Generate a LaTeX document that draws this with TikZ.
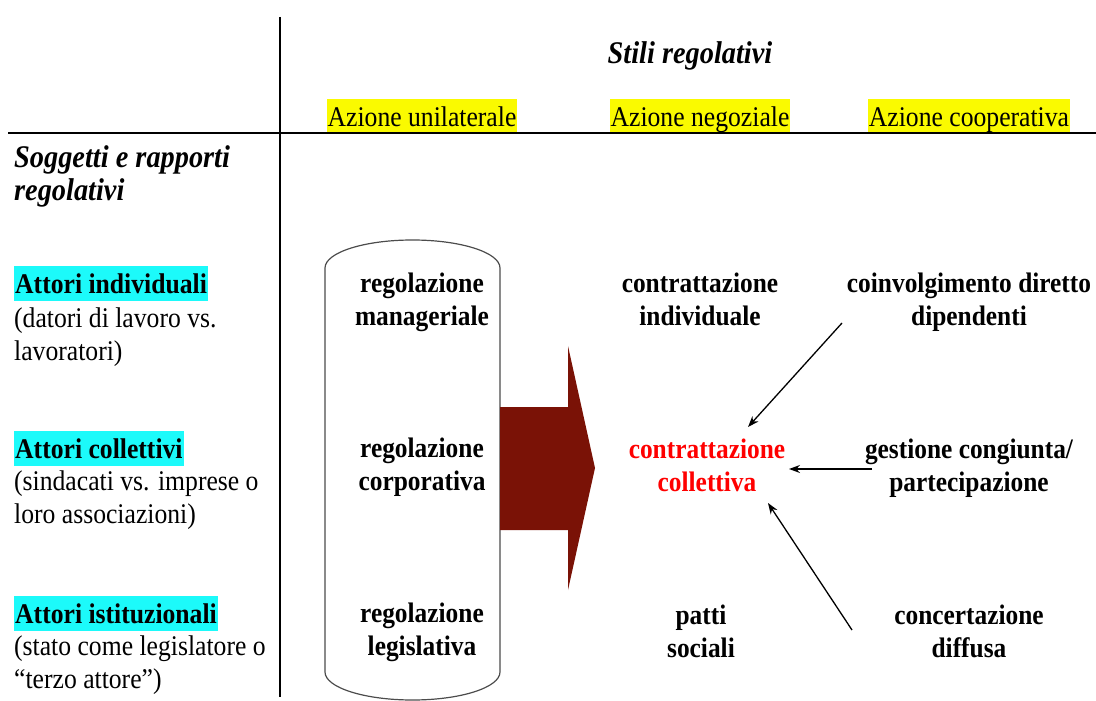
\documentclass[tikz,border=0pt]{standalone}
\usepackage{fontspec}
\setmainfont{Liberation Serif}[FakeStretch=0.9]
\usetikzlibrary{arrows.meta}
\definecolor{arrowred}{HTML}{7A1206}
\definecolor{hlyellow}{HTML}{FAFA00}
\definecolor{hlcyan}{HTML}{1CFAFA}
\begin{document}
\begin{tikzpicture}[x=1pt,y=-1pt,
  rule/.style={line width=2pt,black},
  heading/.style={font=\fontsize{31.5}{33}\selectfont\bfseries\itshape, inner sep=0pt, anchor=base west, align=left},
  colhead/.style={font=\fontsize{28.5}{32}\selectfont, fill=hlyellow, inner xsep=1pt, inner ysep=0pt, text height=28pt, text depth=5pt, anchor=base},
  actor/.style={font=\fontsize{28.5}{32}\selectfont\bfseries, fill=hlcyan, inner xsep=1pt, inner ysep=0pt, text height=27pt, text depth=8pt, anchor=base west},
  desc/.style={font=\fontsize{28.5}{33}\selectfont, inner sep=0pt, anchor=base west, align=left},
  cell/.style={font=\fontsize{28.2}{32.5}\selectfont\bfseries, inner sep=0pt, anchor=base, align=center},
  link/.style={line width=1.3pt, black, -{Stealth[length=11pt,width=8pt]}}
]
\useasboundingbox (0,0) rectangle (1096,701);

% grid lines
\coordinate (vtop) at (280,17);
\coordinate (vbot) at (280,697);
\coordinate (hl) at (8,133);
\coordinate (hr) at (1096,133);
\draw[rule] (vtop) -- (vbot);
\draw[rule] (hl) -- (hr);

% headings (anchor = baseline of last line)
\node[heading, anchor=base] (stili) at (690,64) {Stili regolativi};
\node[heading] (sogg) at (14,200) {Soggetti e rapporti\\regolativi};

% column headers
\node[colhead] (hunil) at (422,127) {Azione unilaterale};
\node[colhead] (hneg) at (700,127) {Azione negoziale};
\node[colhead] (hcoop) at (969,127) {Azione cooperativa};

% row headers
\node[actor] (aind) at (14,293) {Attori individuali};
\node[desc] (dind) at (14,360) {(datori di lavoro vs.\\lavoratori)};
\node[actor] (acol) at (14,458) {Attori collettivi};
\node[desc] (dcol) at (14,523) {(sindacati vs. imprese o\\loro associazioni)};
\node[actor] (aist) at (14,623) {Attori istituzionali};
\node[desc] (dist) at (14,688) {(stato come legislatore o\\``terzo attore'')};

% capsule
\draw[line width=1.2pt, black!70] (325,268) -- (325,672)
  arc[start angle=180, end angle=0, x radius=87.5, y radius=28]
  -- (500,268)
  arc[start angle=0, end angle=-180, x radius=87.5, y radius=28] -- cycle;

% big arrow
\fill[arrowred] (500,407) -- (568,407) -- (568,346) -- (595,468) -- (568,590) -- (568,530) -- (500,530) -- cycle;

% cells (anchor = baseline of second line)
\node[cell] (rman) at (422,325) {regolazione\\manageriale};
\node[cell] (rcor) at (422,490) {regolazione\\corporativa};
\node[cell] (rleg) at (422,655) {regolazione\\legislativa};
\node[cell] (cind) at (700,325) {contrattazione\\individuale};
\node[cell, text=red] (ccol) at (707,491) {contrattazione\\collettiva};
\node[cell] (patti) at (701,657) {patti\\sociali};
\node[cell] (coinv) at (969,325) {coinvolgimento diretto\\dipendenti};
\node[cell] (gest) at (969,491) {gestione congiunta/\\partecipazione};
\node[cell] (conc) at (969,657) {concertazione\\diffusa};

% connectors
\coordinate (s1) at (842,323);
\coordinate (e1) at (748,427);
\coordinate (s2) at (872,469);
\coordinate (e2) at (789,469);
\coordinate (s3) at (852,630);
\coordinate (e3) at (768,503);
\draw[link] (s1) -- (e1);
\draw[link] (s2) -- (e2);
\draw[link] (s3) -- (e3);
\end{tikzpicture}
\end{document}
